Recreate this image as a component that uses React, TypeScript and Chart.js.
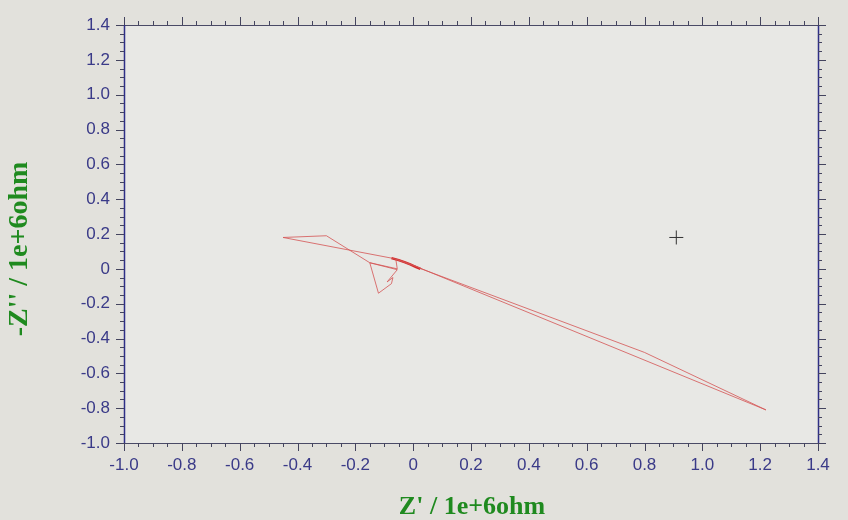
import { useEffect, useRef } from "react";
import { Chart, registerables } from "chart.js";

Chart.register(...registerables);

// Axis ticks (units of 1e+6 ohm)
const X_TICKS = [-1.0, -0.8, -0.6, -0.4, -0.2, 0, 0.2, 0.4, 0.6, 0.8, 1.0, 1.2, 1.4];
const Y_TICKS = [-1.0, -0.8, -0.6, -0.4, -0.2, 0, 0.2, 0.4, 0.6, 0.8, 1.0, 1.2, 1.4];

// Impedance trace: Z' and -Z'' (1e+6 ohm)
const zReal = [0.03, 0.01, -0.02, -0.05, -0.07, -0.45, -0.30, -0.15, -0.12, -0.075, -0.07, -0.09, -0.055, -0.15, -0.055, -0.06, -0.03, 0.0, 0.03, 1.22, 0.80, 0.02];
const zImag = [0.0, 0.015, 0.03, 0.05, 0.06, 0.18, 0.19, 0.035, -0.14, -0.085, -0.05, -0.075, -0.005, 0.035, 0.0, 0.055, 0.04, 0.02, 0.0, -0.81, -0.48, 0.005];

// Dense cluster of points near the origin
const clusterReal = [-0.075, -0.05, -0.03, -0.01, 0.01, 0.025];
const clusterImag = [0.062, 0.05, 0.038, 0.025, 0.01, 0.0];

// Cursor marker
const cursorReal = [0.91];
const cursorImag = [0.18];

const X_TITLE = "Z' / 1e+6ohm";
const Y_TITLE = "-Z'' / 1e+6ohm";

const fmt = (v: number) => (Math.abs(v) < 1e-9 ? "0" : v.toFixed(1));

const framePlugin = {
  id: "frame",
  beforeDraw(chart: any) {
    const { ctx, width, height, chartArea } = chart;
    ctx.save();
    ctx.fillStyle = "#e2e1dc";
    ctx.fillRect(0, 0, width, height);
    ctx.fillStyle = "#e8e8e5";
    ctx.fillRect(chartArea.left, chartArea.top, chartArea.right - chartArea.left, chartArea.bottom - chartArea.top);
    ctx.restore();
  },
  afterDraw(chart: any) {
    const { ctx, chartArea, scales } = chart;
    const { left, right, top, bottom } = chartArea;
    const x = scales.x;
    const y = scales.y;
    ctx.save();
    ctx.lineWidth = 1.2;
    ctx.strokeStyle = "#4a4a66";
    ctx.beginPath();
    ctx.moveTo(left, top + 0.5);
    ctx.lineTo(right, top + 0.5);
    ctx.moveTo(left, bottom + 0.5);
    ctx.lineTo(right, bottom + 0.5);
    ctx.stroke();
    ctx.strokeStyle = "#2e2e86";
    ctx.lineWidth = 1.5;
    ctx.beginPath();
    ctx.moveTo(left + 0.5, top);
    ctx.lineTo(left + 0.5, bottom);
    ctx.moveTo(right + 0.5, top);
    ctx.lineTo(right + 0.5, bottom);
    ctx.stroke();
    ctx.lineWidth = 1;
    ctx.strokeStyle = "#44445e";
    const minX = x.min, maxX = x.max, minY = y.min, maxY = y.max;
    const nX = Math.round((maxX - minX) / 0.05);
    ctx.beginPath();
    for (let i = 0; i <= nX; i++) {
      const v = minX + i * 0.05;
      const px = Math.round(x.getPixelForValue(v)) + 0.5;
      const len = i % 4 === 0 ? 8 : 4;
      ctx.moveTo(px, bottom);
      ctx.lineTo(px, bottom + len);
      ctx.moveTo(px, top);
      ctx.lineTo(px, top - len);
    }
    const nY = Math.round((maxY - minY) / 0.05);
    for (let i = 0; i <= nY; i++) {
      const v = minY + i * 0.05;
      const py = Math.round(y.getPixelForValue(v)) + 0.5;
      const len = i % 4 === 0 ? 8 : 4;
      ctx.moveTo(left, py);
      ctx.lineTo(left - len, py);
      ctx.moveTo(right, py);
      ctx.lineTo(right + len, py);
    }
    ctx.stroke();
    ctx.fillStyle = "#1f8a1f";
    ctx.textAlign = "center";
    ctx.textBaseline = "middle";
    ctx.font = "bold 26px 'Liberation Serif', 'DejaVu Serif', serif";
    ctx.fillText(X_TITLE, 472, 507);
    ctx.translate(20, 249);
    ctx.rotate(-Math.PI / 2);
    ctx.font = "bold 28px 'Liberation Serif', 'DejaVu Serif', serif";
    ctx.fillText(Y_TITLE, 0, 0);
    ctx.restore();
  },
};

export default function App() {
  const ref = useRef<HTMLCanvasElement | null>(null);

  useEffect(() => {
    document.body.style.margin = "0";
    const canvas = ref.current;
    if (!canvas) return;
    const trace = zReal.map((v, i) => ({ x: v, y: zImag[i] }));
    const cluster = clusterReal.map((v, i) => ({ x: v, y: clusterImag[i] }));
    const cursor = cursorReal.map((v, i) => ({ x: v, y: cursorImag[i] }));
    const tickFont = { family: "'Liberation Sans', Arial, sans-serif", size: 17 };
    const chart = new Chart(canvas, {
      type: "scatter",
      data: {
        datasets: [
          {
            label: "Z",
            data: trace,
            showLine: true,
            borderColor: "rgba(212,84,84,0.8)",
            borderWidth: 1,
            pointRadius: 0,
            tension: 0,
          },
          {
            label: "cluster",
            data: cluster,
            showLine: true,
            borderColor: "#d42a2a",
            borderWidth: 2.4,
            pointRadius: 0,
          },
          {
            label: "cursor",
            data: cursor,
            showLine: false,
            pointStyle: "cross",
            pointRadius: 7,
            borderColor: "#333333",
            borderWidth: 1,
          },
        ],
      },
      options: {
        responsive: false,
        animation: false,
        layout: { padding: { top: 25, right: 30, left: 0, bottom: 0 } },
        plugins: { legend: { display: false }, tooltip: { enabled: false } },
        scales: {
          x: {
            type: "linear",
            min: -1.0,
            max: 1.4,
            afterBuildTicks: (s: any) => {
              s.ticks = X_TICKS.map((v) => ({ value: v }));
            },
            afterFit: (s: any) => {
              s.height = 77;
            },
            grid: { display: false, drawTicks: false },
            border: { display: false },
            ticks: {
              padding: 12,
              color: "#3a3a88",
              font: tickFont,
              maxRotation: 0,
              autoSkip: false,
              callback: (v: any) => fmt(Number(v)),
            },
          },
          y: {
            type: "linear",
            min: -1.0,
            max: 1.4,
            afterBuildTicks: (s: any) => {
              s.ticks = Y_TICKS.map((v) => ({ value: v }));
            },
            afterFit: (s: any) => {
              s.width = 124;
            },
            grid: { display: false, drawTicks: false },
            border: { display: false },
            ticks: {
              padding: 14,
              color: "#3a3a88",
              font: tickFont,
              autoSkip: false,
              callback: (v: any) => fmt(Number(v)),
            },
          },
        },
      },
      plugins: [framePlugin],
    });
    return () => chart.destroy();
  }, []);

  return (
    <div style={{ width: 848, height: 520 }}>
      <canvas ref={ref} width={848} height={520} />
    </div>
  );
}
